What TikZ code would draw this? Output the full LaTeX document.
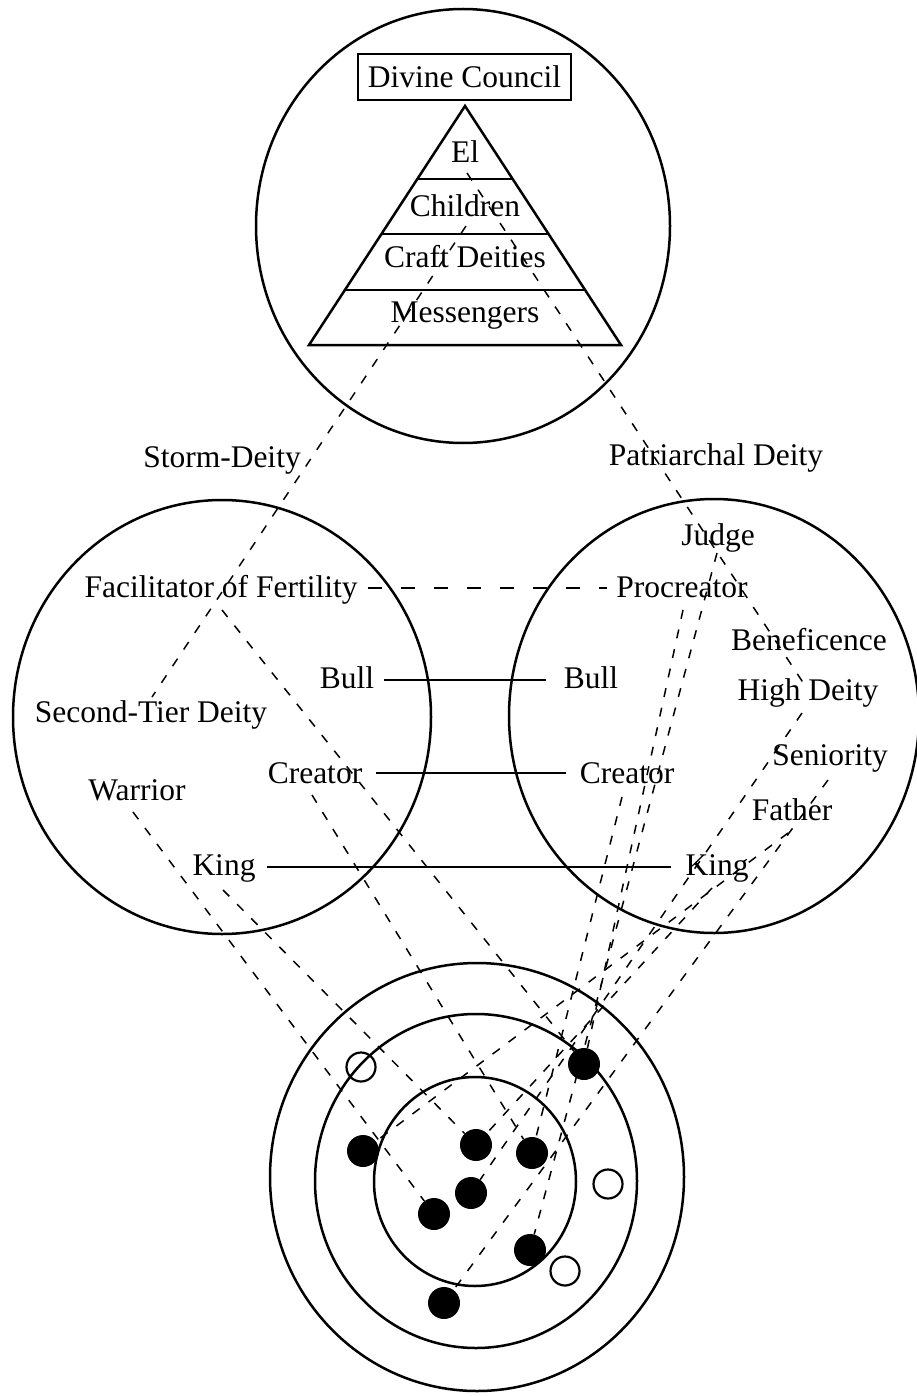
\documentclass[tikz,border=0pt]{standalone}
\usepackage{fontspec}
\setmainfont{Liberation Serif}
\usetikzlibrary{calc}
\begin{document}
\begin{tikzpicture}[x=1pt,y=-1pt,
  lbl/.style={inner sep=0pt, font=\fontsize{31.5}{36}\selectfont, anchor=base},
  ring/.style={line width=2.5pt},
  thindash/.style={line width=1.5pt, dash pattern=on 9pt off 11pt},
  thickdash/.style={line width=2.4pt, dash pattern=on 14pt off 19pt},
  link/.style={line width=2.4pt},
  fdot/.style={circle, fill=black, minimum size=32pt, inner sep=0pt},
  odot/.style={circle, draw=black, line width=2.2pt, minimum size=29pt, inner sep=0pt},
]
\useasboundingbox (0,0) rectangle (917,1396);

% big circles
\draw[ring] (463,226) ellipse [x radius=207pt, y radius=217pt];
\draw[ring] (222,717) ellipse [x radius=209pt, y radius=217pt];
\draw[ring] (714,716) ellipse [x radius=205pt, y radius=217pt];
\draw[ring] (477,1177) ellipse [x radius=207pt, y radius=214pt];
\draw[ring] (476,1181) ellipse [x radius=161pt, y radius=167pt];
\draw[ring] (475,1181.5) ellipse [x radius=101pt, y radius=104.5pt];

% pyramid
\coordinate (apex) at (465,106);
\coordinate (bl) at (309,345);
\coordinate (br) at (621,345);
\draw[ring, line join=miter] (apex) -- (bl) -- (br) -- cycle;
\foreach \t in {0.3054,0.5356,0.7699}
  \draw[ring] ($(apex)!\t!(bl)$) -- ($(apex)!\t!(br)$);

\node[draw, line width=2.2pt, minimum width=213pt, minimum height=46pt, inner sep=0pt,
  font=\fontsize{31.5}{36}\selectfont] (council) at (464.5,77) {Divine Council};

% labels
\node[lbl] (el) at (465,163) {El};
\node[lbl] (children) at (465,217) {Children};
\node[lbl] (craft) at (465,268) {Craft Deities};
\node[lbl] (mess) at (465,323) {Messengers};
\node[lbl] (storm) at (222,467) {Storm-Deity};
\node[lbl] (patri) at (716,465) {Patriarchal Deity};
\node[lbl] (fert) at (221,597) {Facilitator of Fertility};
\node[lbl] (bullL) at (347,688) {Bull};
\node[lbl] (second) at (151,722) {Second-Tier Deity};
\node[lbl] (creatorL) at (315,783) {Creator};
\node[lbl] (warrior) at (137,800) {Warrior};
\node[lbl] (kingL) at (224,875) {King};
\node[lbl] (judge) at (718,545) {Judge};
\node[lbl] (procreator) at (682,597) {Procreator};
\node[lbl] (benef) at (809,650) {Beneficence};
\node[lbl] (bullR) at (591,688) {Bull};
\node[lbl] (high) at (808,700) {High Deity};
\node[lbl] (senior) at (830,765) {Seniority};
\node[lbl] (creatorR) at (627,783) {Creator};
\node[lbl] (father) at (792,820) {Father};
\node[lbl] (kingR) at (717,875) {King};

% dots
\node[fdot] (dA) at (584,1064) {};
\node[fdot] (dB) at (363,1151) {};
\node[fdot] (dC) at (476,1145) {};
\node[fdot] (dD) at (532,1153) {};
\node[fdot] (dE) at (471,1193) {};
\node[fdot] (dF) at (434,1214) {};
\node[fdot] (dG) at (530,1250) {};
\node[fdot] (dH) at (444,1303) {};
\node[odot] (o1) at (361,1067) {};
\node[odot] (o2) at (608,1184) {};
\node[odot] (o3) at (565,1271) {};

% solid links
\draw[link] ([xshift=10pt,yshift=8pt]bullL.base east) -- ([xshift=-18pt,yshift=8pt]bullR.base west);
\draw[link] ([xshift=14pt,yshift=10pt]creatorL.base east) -- ([xshift=-14pt,yshift=10pt]creatorR.base west);
\draw[link] ([xshift=11pt,yshift=8pt]kingL.base east) -- ([xshift=-14pt,yshift=8pt]kingR.base west);
\draw[thickdash] ([xshift=10pt,yshift=9pt]fert.base east) -- ([xshift=-9pt,yshift=9pt]procreator.base west);

% dashed connectors
\draw[thindash] ($(children.base)+(1,9)$) -- ($(second.base)+(1,-25)$);
\draw[thindash] ($(el.base)+(2,10)$) -- ($(high.base)+(-4,-16)$);
\draw[thindash] ($(fert.base)+(1,13)$) -- (dA);
\draw[thindash] ($(creatorL.base)+(-3,12)$) -- (dD);
\draw[thindash] ($(warrior.base)+(-4,12)$) -- (dF);
\draw[thindash] ($(kingL.base)+(-1,15)$) -- (dC);
\draw[thindash] ($(judge.base)+(-1,8)$) -- (dG);
\draw[thindash] ($(procreator.base)+(1,13)$) -- (dA);
\draw[thindash] ($(creatorR.base)+(-5,14)$) -- (dD);
\draw[thindash] ($(kingR.base)+(-5,13)$) -- (dC);
\draw[thindash] ($(high.base)+(-6,13)$) -- (dE);
\draw[thindash] ($(senior.base)+(-2,15)$) -- (dH);
\draw[thindash] ($(father.base)+(-4,13)$) -- (dB);
\end{tikzpicture}
\end{document}
